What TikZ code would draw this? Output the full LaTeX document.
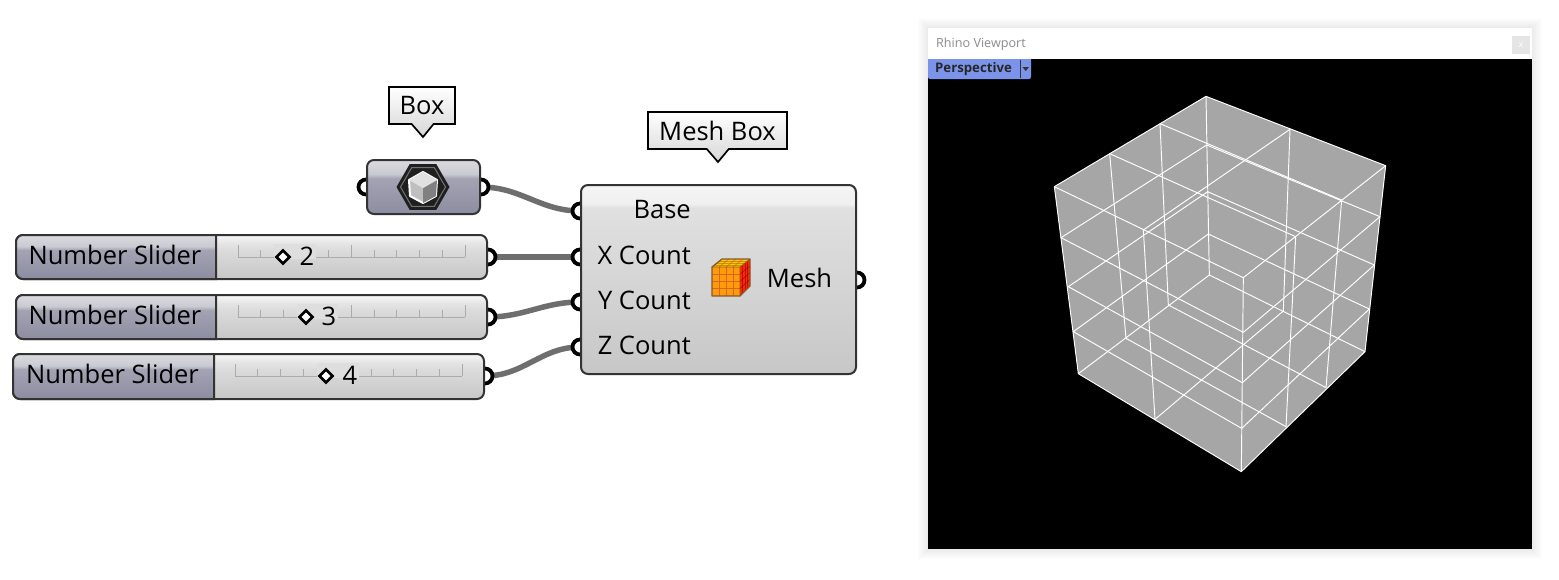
\documentclass[tikz,border=0pt]{standalone}
\usepackage{fontspec}
\setmainfont{Open Sans}
\usetikzlibrary{positioning, shapes.geometric, shapes.callouts, backgrounds}
\definecolor{gridBlack}{HTML}{333333}
\definecolor{wireGray}{HTML}{6E6E6E}
\definecolor{meshGray}{HTML}{A6A6A6}
\definecolor{tabBlue}{HTML}{7B93E8}
\definecolor{tickGray}{HTML}{ABABAB}
\definecolor{capLow}{HTML}{8D8DA1}
\definecolor{capMid}{HTML}{A3A3B4}
\definecolor{capHigh}{HTML}{DADADF}
\definecolor{cubeOrange}{HTML}{FF9A0A}
\definecolor{cubeLine}{HTML}{D2691E}
\pgfdeclareverticalshading{capBody}{100bp}{color(0bp)=(capLow); color(25bp)=(capLow);
  color(58bp)=(capMid); color(62bp)=(capHigh!70!capMid); color(75bp)=(capHigh); color(100bp)=(capHigh)}
\pgfdeclareverticalshading{sliderBody}{100bp}{color(0bp)=(black!22); color(25bp)=(black!22);
  color(58bp)=(black!14); color(66bp)=(black!10); color(75bp)=(black!3); color(100bp)=(black!3)}
\pgfdeclareverticalshading{meshBody}{100bp}{color(0bp)=(black!22); color(25bp)=(black!22);
  color(69bp)=(black!12); color(70bp)=(black!6); color(75bp)=(black!4); color(100bp)=(black!4)}
\pgfdeclareverticalshading{tagBody}{100bp}{color(0bp)=(black!16); color(25bp)=(black!16);
  color(75bp)=(white); color(100bp)=(white)}

\begin{document}
\begin{tikzpicture}[
    x=1pt,y=-1pt,
    every node/.style={font=\fontsize{25.5}{25.5}\selectfont,text=black,inner sep=0pt},
    port/.style={circle,draw=black,line width=3.8pt,fill=white,minimum size=15pt},
    wire/.style={draw=wireGray,line width=5.5pt},
    tag/.style={rectangle callout,draw=black,line width=1.7pt,shading=tagBody,
      callout pointer width=22pt,minimum height=37pt},
    body/.style={rectangle,rounded corners=7pt,draw=gridBlack,line width=2pt,outer sep=0pt},
    knob/.style={diamond,draw=black,fill=white,line width=2.6pt,minimum size=14pt},
    tick/.style={draw=tickGray,line width=1pt},
    web/.style={draw=white,line width=.95pt,line join=round}]
  \useasboundingbox (0,0) rectangle (1559,579);

  % ports first, the components sit over them
  \node[port] (boxIn) at (366,187) {};
  \node[port] (boxOut) at (481,187) {};
  \node[port] (baseIn) at (580,211) {};
  \node[port] (xIn) at (580,257) {};
  \node[port] (yIn) at (580,302) {};
  \node[port] (zIn) at (580,347) {};
  \node[port] (meshOut) at (857,280) {};
  \node[port] (sliderAOut) at (488,257) {};
  \node[port] (sliderBOut) at (488,317) {};
  \node[port] (sliderCOut) at (485,376) {};

  \begin{scope}[on background layer]
    \draw[wire] (boxOut.center) to[out=0,in=180] (baseIn.center);
    \draw[wire] (sliderAOut.center) -- (xIn.center);
    \draw[wire] (sliderBOut.center) to[out=0,in=180] (yIn.center);
    \draw[wire] (sliderCOut.center) to[out=0,in=180] (zIn.center);
  \end{scope}

  % tags
  \node[tag,minimum width=66pt,callout absolute pointer={(423,137)}] (boxTag) at (422,105.5) {Box};
  \node[tag,minimum width=139pt,callout absolute pointer={(718,162)}] (meshTag) at (717.5,130.5) {Mesh Box};

  % box component
  \node[body,shading=capBody,minimum width=113pt,minimum height=54pt] (boxComp) at (423.5,187) {};
  \node[regular polygon,regular polygon sides=6,fill=black!88,minimum size=53pt] (boxHex) at (423,187) {};
  \node[regular polygon,regular polygon sides=6,draw=black!55,line width=1pt,minimum size=45pt] (boxHexIn) at (423,187) {};
  \draw[white,line width=2pt,line join=round,fill=black!25] (423,172) -- (437,180) -- (436,196) -- (423,203) -- (410,196) -- (409,180) -- cycle;
  \fill[black!50] (423,188) -- (437,180) -- (436,196) -- (423,203) -- cycle;
  \fill[black!12] (423,172) -- (437,180) -- (423,188) -- (409,180) -- cycle;

  % sliders
  \foreach \nm/\xo/\yo/\hh/\split/\val/\kx/\vx/\tx in {
      sliderA/16/235/44/216/2/283/307/238,
      sliderB/16/295/44/216/3/306/329/238,
      sliderC/13/354/45/214/4/326/350/235}{
    \node[body,shading=sliderBody,anchor=north west,minimum width=471pt,minimum height=\hh pt] (\nm) at (\xo,\yo) {};
    \shade[shading=capBody,draw=gridBlack,line width=2pt] (\split,\yo+\hh) [rounded corners=7pt] -- (\xo,\yo+\hh) -- (\xo,\yo) [sharp corners] -- (\split,\yo) -- cycle;
    \node (\nm Name) at ({(\xo+\split)/2-1},\yo+20) {Number Slider};
    \draw[tick] (\tx,\yo+22) -- (\tx+227,\yo+22);
    \foreach \k in {0,...,10}
      \draw[tick] (\tx+\k*22.7,\yo+22) -- (\tx+\k*22.7,\yo+15);
    \foreach \k in {0,5,10}
      \draw[tick] (\tx+\k*22.7,\yo+22) -- (\tx+\k*22.7,\yo+10);
    \fill[black!13] (\kx-9,\yo+9) rectangle (\vx+9,\yo+24);
    \node[knob] (\nm Knob) at (\kx,\yo+22) {};
    \node (\nm Value) at (\vx,\yo+21) {\val};
  }

  % mesh box component
  \node[body,shading=meshBody,anchor=north west,minimum width=275pt,minimum height=189pt] (meshComp) at (581,185) {};
  \node[anchor=east] (baseText) at (691,210) {Base};
  \node[anchor=east] (xText) at (691,255) {X Count};
  \node[anchor=east] (yText) at (691,300) {Y Count};
  \node[anchor=east] (zText) at (691,345) {Z Count};
  \node (meshText) at (799.5,278) {Mesh};

  % cube icon
  \fill[cubeOrange] (712,267) rectangle (740,296);
  \fill[red!70!orange] (740,267) -- (750,259) -- (750,286) -- (740,296) -- cycle;
  \fill[yellow!60!orange] (712,267) -- (722,259) -- (750,259) -- (740,267) -- cycle;
  \foreach \k in {1,2,3}{
    \draw[cubeLine,line width=1pt] (712+\k*7,267) -- (712+\k*7,296);
    \draw[cubeLine,line width=1pt] (712,267+\k*7.2) -- (740,267+\k*7.2);
    \draw[red!50!black,line width=.8pt,opacity=.5] (740,267+\k*7.2) -- (750,259+\k*6.8);
    \draw[red!50!black,line width=.8pt,opacity=.5] (740+\k*2.5,267-\k*2) -- (740+\k*2.5,296-\k*2.5);
    \draw[orange!70!black,line width=.8pt,opacity=.5] (712+\k*7,267) -- (722+\k*7,259);
    \draw[orange!70!black,line width=.8pt,opacity=.5] (712+\k*2.5,267-\k*2) -- (740+\k*2.5,267-\k*2);
  }
  \draw[black!30!brown,line width=1.3pt,line join=round] (712,267) -- (722,259) -- (750,259) -- (750,286) -- (740,296) -- (712,296) -- cycle;
  \draw[black!30!brown,line width=.8pt] (712,267) -- (740,267) -- (750,259) (740,267) -- (740,296);

  % viewport
  \foreach \s in {1,...,10}
    \fill[black,opacity=.006] (928-\s,28-\s) rectangle (1532+\s,549+\s);
  \fill[white] (928,28) rectangle (1532,59);
  \fill[black] (928,59) rectangle (1532,549);
  \node[anchor=west,font=\fontsize{12.6}{12.6}\selectfont,text=black!45] (viewTitle) at (936,44) {Rhino Viewport};
  \fill[black!10] (1512,36) rectangle (1530,54);
  \node[font=\fontsize{9}{9}\selectfont,text=white] (viewClose) at (1521,45.5) {x};
  \path[fill=tabBlue] (928,59) -- (1031,59) [rounded corners=2pt] -- (1031,79) -- (928,79) [sharp corners] -- cycle;
  \node[anchor=west,font=\fontsize{13.2}{13.2}\selectfont\bfseries,text=black!85] (viewTab) at (935,69.5) {Perspective};
  \draw[black!80,line width=1pt] (1020,60) -- (1020,78);
  \fill[black!80] (1022.5,67) -- (1029,67) -- (1025.75,71) -- cycle;

  % mesh cage
  \begin{scope}[shift={(1040,85)},x=.33333pt,y=-.33333pt]
    \fill[meshGray] (498,34) -- (1037,242) -- (975,800) -- (604,1160) -- (115,866) -- (43,305) -- cycle;
    \draw[web] (498,34) -- (1037,242) -- (975,800) -- (604,1160) -- (115,866) -- (43,305) -- cycle;
    % top face
    \draw[web] (43,305) -- (610,578) -- (1037,242);
    \draw[web] (360,116) -- (905,345);
    \draw[web] (209,206) -- (767,455);
    \draw[web] (750,133) -- (310,435);
    % bottom face
    \draw[web] (115,866) -- (508,570) -- (975,800);
    \draw[web] (258,760) -- (738,1025);
    \draw[web] (385,660) -- (858,908);
    \draw[web] (345,1003) -- (730,678);
    % uprights
    \draw[web] (498,34) -- (508,570);
    \draw[web] (610,578) -- (604,1160);
    \draw[web] (360,116) -- (385,660);
    \draw[web] (209,206) -- (258,760);
    \draw[web] (750,133) -- (730,678);
    \draw[web] (310,435) -- (345,1003);
    \draw[web] (905,345) -- (858,908);
    \draw[web] (767,455) -- (738,1025);
    % rings
    \draw[web] (63,458) -- (610,742) -- (1020,395) -- (500,180) -- cycle;
    \draw[web] (85,605) -- (607,893) -- (1003,540) -- (503,320) -- cycle;
    \draw[web] (100,740) -- (605,1030) -- (988,672) -- (505,447) -- cycle;
  \end{scope}
\end{tikzpicture}
\end{document}
